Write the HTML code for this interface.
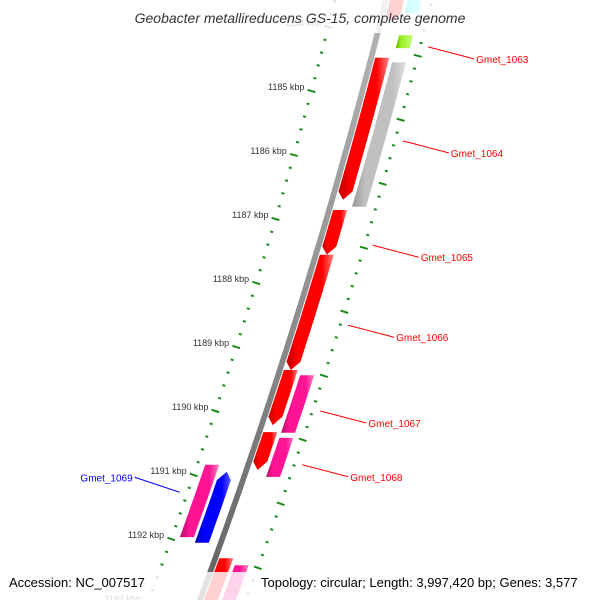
<!DOCTYPE html>
<html><head><meta charset="utf-8"><style>
html,body{margin:0;padding:0;background:#fff;overflow:hidden}
svg{display:block}
text{font-family:"Liberation Sans",sans-serif}
</style></head><body>
<svg id="map" width="600" height="600" viewBox="0 0 600 600" xmlns="http://www.w3.org/2000/svg">
<defs>
<linearGradient id="g-red" x1="0" x2="1" y1="0" y2="0"><stop offset="0" stop-color="#c00000"/><stop offset="0.25" stop-color="#ff0000"/><stop offset="0.75" stop-color="#ff0000"/><stop offset="1" stop-color="#ff8080"/></linearGradient>
<linearGradient id="g-gray" x1="0" x2="1"><stop offset="0" stop-color="#999"/><stop offset="0.25" stop-color="#c0c0c0"/><stop offset="0.75" stop-color="#c0c0c0"/><stop offset="1" stop-color="#e0e0e0"/></linearGradient>
<linearGradient id="g-pink" x1="0" x2="1"><stop offset="0" stop-color="#b0106a"/><stop offset="0.25" stop-color="#ff1493"/><stop offset="0.75" stop-color="#ff1493"/><stop offset="1" stop-color="#ff80c0"/></linearGradient>
<linearGradient id="g-blue" x1="0" x2="1"><stop offset="0" stop-color="#0000a0"/><stop offset="0.25" stop-color="#0000ff"/><stop offset="0.75" stop-color="#0000ff"/><stop offset="1" stop-color="#6060ff"/></linearGradient>
<linearGradient id="g-cyan" x1="0" x2="1"><stop offset="0" stop-color="#00b0c0"/><stop offset="0.3" stop-color="#00ffff"/><stop offset="1" stop-color="#90ffff"/></linearGradient>
<linearGradient id="g-lime" x1="0" x2="1"><stop offset="0" stop-color="#6ab000"/><stop offset="0.3" stop-color="#99ee22"/><stop offset="1" stop-color="#c8ff80"/></linearGradient>
<linearGradient id="g-bb" x1="0" x2="1"><stop offset="0" stop-color="#555"/><stop offset="0.5" stop-color="#888"/><stop offset="1" stop-color="#bbb"/></linearGradient>
</defs>
<g id="layer"></g>
<rect x="0" y="0" width="600" height="33" fill="#fff" fill-opacity="0.82"/>
<text x="300" y="23" text-anchor="middle" font-size="14" font-style="italic" fill="#333">Geobacter metallireducens GS-15, complete genome</text>
<rect x="0" y="572" width="600" height="28" fill="#fff" fill-opacity="0.82"/>
<text x="9" y="587" font-size="13" fill="#000">Accession: NC_007517</text>
<text x="261" y="587" font-size="13" fill="#000">Topology: circular; Length: 3,997,420 bp; Genes: 3,577</text>
</svg>
<script>
// data (kbp)
const tickKbp = [1184,1185,1186,1187,1188,1189,1190,1191,1192,1193];
const tickLabels = ["1184 kbp","1185 kbp","1186 kbp","1187 kbp","1188 kbp","1189 kbp","1190 kbp","1191 kbp","1192 kbp","1193 kbp"];
const geneNames = ["top-red","top-cyan","Gmet_1063","red-a","Gmet_1064","Gmet_1065","Gmet_1066","Gmet_1067-red","Gmet_1067","Gmet_1068-red","Gmet_1068","left-pink","Gmet_1069","bottom-red","bottom-pink"];
const geneStarts = [1183.4,1183.4,1184.13,1184.48,1184.55,1186.86,1187.56,1189.36,1189.44,1190.33,1190.42,1190.84,1190.95,1192.30,1192.41];
const geneEnds   = [1183.92,1183.78,1184.33,1186.70,1186.81,1187.56,1189.36,1190.22,1190.34,1190.92,1191.03,1191.97,1192.06,1193.3,1193.3];
const geneLanes  = [1,2,2,1,2,1,1,1,2,1,2,-2,-1,1,2];
const geneColors = ["red","cyan","lime","red","gray","red","red","red","pink","red","pink","pink","blue","red","pink"];
const geneArrow  = ["end","none","none","end","none","end","end","end","none","end","none","none","start","end","none"];
const labelGenes = ["Gmet_1063","Gmet_1064","Gmet_1065","Gmet_1066","Gmet_1067","Gmet_1068","Gmet_1069"];
const labelKbp   = [1184.31,1185.78,1187.41,1188.66,1190.0,1190.84,1191.27];
const labelSide  = [1,1,1,1,1,1,-1];

const NS="http://www.w3.org/2000/svg";
const layer=document.getElementById('layer');
function yOf(k){return 91+(k-1185)*64;}
function P(k,off){const y=yOf(k);const xb=386-0.25*y-0.0001*y*y;return [xb+off, y];}
function nrm(k){const y=yOf(k);const s=-0.25-0.0002*y;const n=Math.sqrt(1+s*s);return [1/n,-s/n];}
function mk(tag,attrs){const e=document.createElementNS(NS,tag);for(const a in attrs)e.setAttribute(a,attrs[a]);layer.appendChild(e);return e;}
function pts(a){return a.map(p=>p[0].toFixed(1)+','+p[1].toFixed(1)).join(' ');}
function tick(k,off,len,name){const p=P(k,off),n=nrm(k);
const t=mk('line',{x1:p[0]-n[0]*len/2,y1:p[1]-n[1]*len/2,x2:p[0]+n[0]*len/2,y2:p[1]+n[1]*len/2,stroke:'#1a8a1a','stroke-width':2});

}

// backbone
{const a=[],b=[];for(let k=1183;k<=1194;k+=0.1){a.push(P(k,-3));b.unshift(P(k,3));}
const e=mk('polygon',{points:pts(a.concat(b)),fill:'url(#g-bb)'});

}

// left ruler ring
for(let k=1183.4;k<=1194;k+=0.2){const kk=Math.round(k*10)/10;if(Math.abs(kk-Math.round(kk))<0.01)continue;tick(kk,-51,3,'ruler-minor-tick');}
tickKbp.forEach((k,i)=>{tick(k,-51,8,'ruler-major-tick');
const l=P(k,-58);
const tx=mk('text',{x:l[0].toFixed(1),y:(l[1]-1).toFixed(1),'font-size':9,'text-anchor':'end',fill:'#333'});
tx.textContent=tickLabels[i];

});

// right ring
for(let k=1183.45;k<=1194;k+=0.2){const f=((k-1184.45)%1+1)%1;const major=f<0.05||f>0.95;
tick(k,46,major?8:3,major?'outer-major-tick':'outer-minor-tick');}

// genes
const laneOff={1:11,2:29,'-1':-19,'-2':-36};
geneNames.forEach((nm,i)=>{const c=laneOff[geneLanes[i]],w=7,h=0.13;let s=geneStarts[i],e=geneEnds[i];
const L=[],R=[];const a0=geneArrow[i]==='start'?s+h:s,a1=geneArrow[i]==='end'?e-h:e;
for(let k=a0;k<=a1+1e-9;k+=(a1-a0)/10){L.push(P(k,c-w));R.push(P(k,c+w));}
let poly=[];
if(geneArrow[i]==='start')poly.push(P(s,c));
poly=poly.concat(L);
if(geneArrow[i]==='end')poly.push(P(e,c));
poly=poly.concat(R.reverse());
const g=mk('polygon',{points:pts(poly),fill:'url(#g-'+geneColors[i]+')'});

});

// labels
labelGenes.forEach((nm,i)=>{const sd=labelSide[i];const k=labelKbp[i];
const a=sd>0?P(k,54):P(k,-59);const b=sd>0?[a[0]+46,a[1]+12]:[a[0]-45,a[1]-15];
const col=sd>0?'#ff0000':'#0000ff';
const ln=mk('line',{x1:a[0],y1:a[1],x2:b[0],y2:b[1],stroke:col,'stroke-width':1});


const t=mk('text',{x:(b[0]+(sd>0?2:-2)).toFixed(1),y:(b[1]+4).toFixed(1),'font-size':10,fill:col,'text-anchor':sd>0?'start':'end'});
t.textContent=nm;

});
</script>
</body></html>
